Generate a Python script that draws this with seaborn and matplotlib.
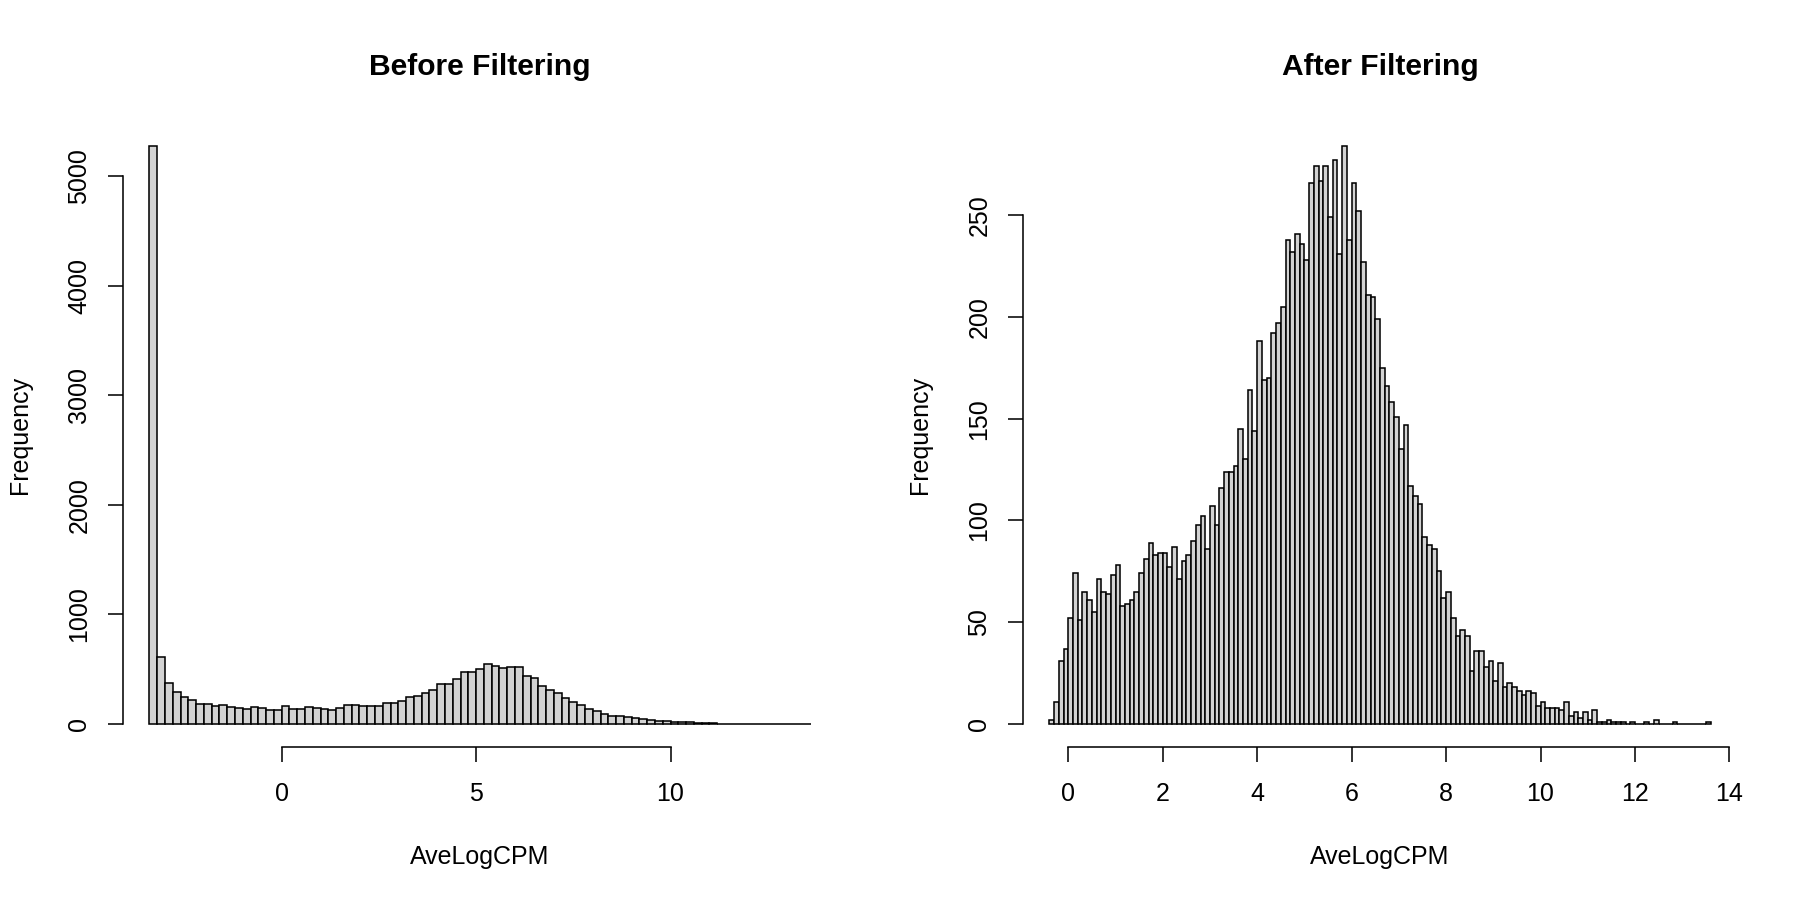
import numpy as np
import pandas as pd
import matplotlib
matplotlib.use("Agg")
import matplotlib.pyplot as plt
import seaborn as sns

# --- data (counts per bin) ---
# before filtering: breaks every 0.2 starting at -3.4
before_start = -3.4
before_width = 0.2
before_counts = [
    5275, 614, 371, 295, 249, 222, 185, 185, 164, 170,
    155, 143, 137, 155, 149, 128, 131, 161, 140, 134,
    152, 149, 140, 125, 143, 173, 173, 164, 164, 167,
    195, 191, 210, 249, 258, 280, 310, 362, 365, 413,
    471, 477, 498, 544, 529, 514, 523, 523, 441, 416,
    343, 313, 283, 234, 204, 176, 140, 122, 91, 73,
    73, 61, 52, 43, 38, 30, 24, 19, 16, 18,
    10, 9, 9, 2, 3, 2, 1, 0, 1, 2,
    0, 1, 0, 0, 1,
]

# after filtering: breaks every 0.1 starting at -0.4
after_start = -0.4
after_width = 0.1
after_counts = [
    2, 11, 31, 37, 52, 74, 51, 65, 61, 55,
    71, 65, 64, 73, 78, 58, 59, 61, 65, 74,
    81, 89, 83, 84, 84, 77, 87, 71, 80, 83,
    90, 98, 102, 86, 107, 98, 116, 124, 124, 127,
    145, 130, 164, 144, 188, 169, 170, 192, 197, 205,
    238, 232, 241, 236, 228, 266, 274, 267, 274, 249,
    277, 231, 284, 238, 266, 252, 227, 211, 210, 199,
    175, 166, 158, 151, 135, 147, 117, 112, 108, 92,
    88, 86, 75, 62, 65, 52, 43, 46, 43, 26,
    36, 36, 28, 31, 21, 30, 18, 20, 18, 16,
    14, 16, 15, 9, 11, 8, 8, 8, 7, 11,
    4, 6, 3, 6, 2, 7, 1, 1, 2, 1,
    1, 1, 0, 1, 0, 0, 1, 0, 2, 0,
    0, 0, 1, 0, 0, 0, 0, 0, 0, 1,
]

before_xticks = [0, 5, 10]
before_yticks = [0, 1000, 2000, 3000, 4000, 5000]
after_xticks = [0, 2, 4, 6, 8, 10, 12, 14]
after_yticks = [0, 50, 100, 150, 200, 250]

sns.set_theme(style="white")
plt.rcParams["font.family"] = ["Liberation Sans", "DejaVu Sans"]
plt.rcParams["text.color"] = "black"
plt.rcParams["axes.labelcolor"] = "black"
plt.rcParams["xtick.color"] = "black"
plt.rcParams["ytick.color"] = "black"


def draw_hist(ax, start, width, counts, xticks, yticks, title):
    n = len(counts)
    edges = [round(start + width * k, 2) for k in range(n + 1)]
    mids = [(a + b) / 2 for a, b in zip(edges[:-1], edges[1:])]
    df = pd.DataFrame({"AveLogCPM": mids, "count": counts})
    sns.histplot(data=df, x="AveLogCPM", weights="count", bins=edges, ax=ax,
                 color="#D3D3D3", edgecolor="black", linewidth=0.75, alpha=1)

    # base R style: 4% padding around the data range
    xr = edges[-1] - edges[0]
    ax.set_xlim(edges[0] - 0.04 * xr, edges[-1] + 0.04 * xr)
    ymax = max(counts)
    ax.set_ylim(-0.04 * ymax, 1.04 * ymax)

    ax.set_xticks(xticks)
    ax.set_yticks(yticks)
    for s in ["top", "right"]:
        ax.spines[s].set_visible(False)
    ax.spines["left"].set_bounds(yticks[0], yticks[-1])
    ax.spines["bottom"].set_bounds(xticks[0], xticks[-1])
    for s in ["left", "bottom"]:
        ax.spines[s].set_color("black")
        ax.spines[s].set_linewidth(0.75)

    ax.tick_params(axis="both", direction="out", length=7.2, width=0.75,
                   labelsize=12, left=True, bottom=True)
    ax.tick_params(axis="x", pad=9.5)
    ax.tick_params(axis="y", labelrotation=90, pad=8)
    plt.setp(ax.get_yticklabels(), va="center")

    ax.set_xlabel("AveLogCPM", fontsize=12, labelpad=19)
    ax.set_ylabel("Frequency", fontsize=12, labelpad=17)
    ax.set_title(title, fontsize=14.4, fontweight="bold", pad=23)
    ax.grid(False)


fig, axes = plt.subplots(1, 2, figsize=(12, 6), dpi=150)
fig.subplots_adjust(left=0.0683, right=0.965, bottom=0.17, top=0.8633, wspace=0.2604)

draw_hist(axes[0], before_start, before_width, before_counts,
          before_xticks, before_yticks, "Before Filtering")
draw_hist(axes[1], after_start, after_width, after_counts,
          after_xticks, after_yticks, "After Filtering")

fig.savefig("out.png", dpi=150, facecolor="white")
